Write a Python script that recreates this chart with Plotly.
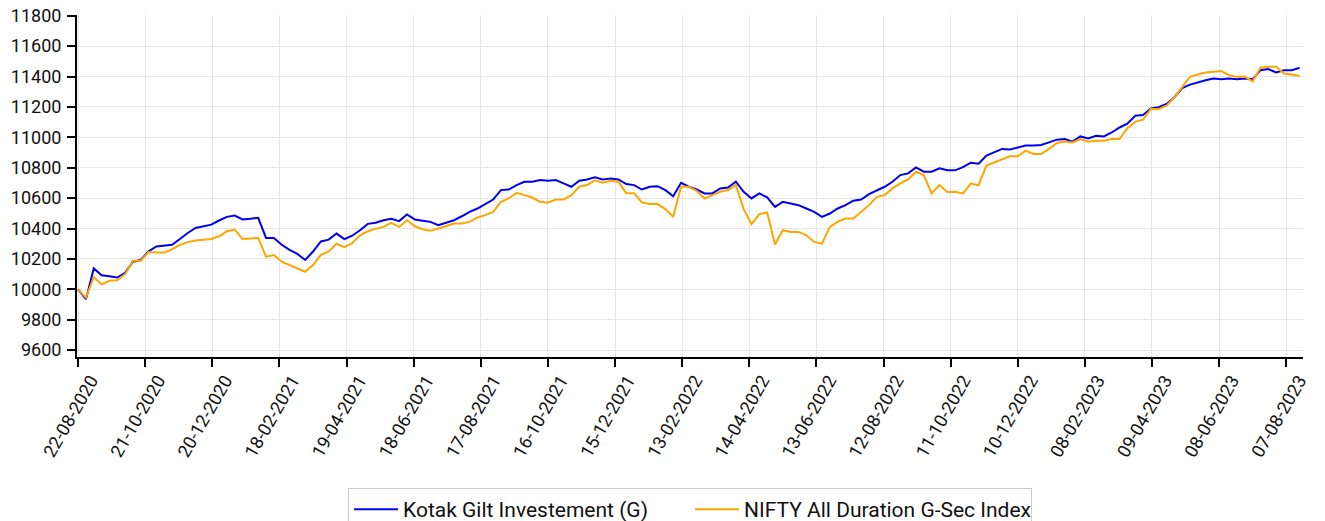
import pandas as pd
import plotly.graph_objects as go

# Weekly observations starting 22-08-2020
start_date = "2020-08-22"
n_weeks = 157
dates = pd.date_range(start_date, periods=n_weeks, freq="7D")

kotak_gilt = [
    10000, 9935, 10138, 10093, 10087, 10078, 10109, 10182, 10193, 10250,
    10282, 10287, 10293, 10331, 10371, 10404, 10415, 10426, 10453, 10477,
    10486, 10460, 10464, 10471, 10338, 10338, 10293, 10260, 10233, 10193,
    10249, 10315, 10327, 10367, 10331, 10353, 10389, 10431, 10438, 10455,
    10464, 10449, 10493, 10460, 10452, 10444, 10422, 10437, 10455, 10481,
    10510, 10532, 10560, 10591, 10653, 10657, 10686, 10708, 10708, 10719,
    10715, 10719, 10697, 10675, 10715, 10723, 10737, 10723, 10730, 10723,
    10693, 10686, 10657, 10675, 10679, 10653, 10613, 10701, 10675, 10657,
    10631, 10631, 10664, 10670, 10708, 10642, 10598, 10631, 10605, 10543,
    10576, 10565, 10554, 10532, 10510, 10477, 10499, 10532, 10554, 10583,
    10591, 10627, 10653, 10675, 10708, 10752, 10763, 10802, 10774, 10774,
    10797, 10783, 10783, 10804, 10833, 10826, 10880, 10902, 10924, 10920,
    10935, 10946, 10946, 10950, 10967, 10985, 10989, 10972, 11006, 10993,
    11011, 11006, 11032, 11065, 11090, 11142, 11147, 11191, 11198, 11220,
    11264, 11324, 11347, 11364, 11376, 11387, 11382, 11387, 11382, 11387,
    11382, 11442, 11449, 11427, 11442, 11442, 11458,
]

nifty_gsec = [
    10000, 9945, 10080, 10033, 10056, 10060, 10100, 10189, 10189, 10245,
    10242, 10242, 10264, 10293, 10311, 10322, 10327, 10331, 10349, 10382,
    10393, 10331, 10335, 10338, 10215, 10226, 10182, 10160, 10138, 10116,
    10160, 10227, 10249, 10300, 10278, 10304, 10355, 10382, 10398, 10411,
    10438, 10411, 10455, 10415, 10396, 10385, 10400, 10415, 10433, 10433,
    10444, 10473, 10488, 10510, 10576, 10598, 10635, 10620, 10604, 10576,
    10570, 10591, 10591, 10620, 10675, 10686, 10717, 10701, 10715, 10708,
    10633, 10633, 10572, 10561, 10561, 10528, 10477, 10675, 10675, 10648,
    10598, 10620, 10642, 10653, 10686, 10528, 10429, 10495, 10506, 10295,
    10389, 10378, 10378, 10356, 10312, 10301, 10411, 10444, 10466, 10466,
    10510, 10554, 10609, 10620, 10664, 10697, 10723, 10774, 10752, 10631,
    10686, 10640, 10642, 10631, 10696, 10685, 10815, 10837, 10854, 10876,
    10876, 10913, 10891, 10891, 10924, 10963, 10972, 10967, 10989, 10972,
    10978, 10978, 10989, 10989, 11060, 11102, 11116, 11187, 11187, 11209,
    11264, 11331, 11398, 11413, 11427, 11431, 11436, 11409, 11398, 11398,
    11369, 11458, 11464, 11464, 11420, 11413, 11404,
]

series_names = ["Kotak Gilt Investement (G)", "NIFTY All Duration G-Sec Index"]
tick_dates = pd.date_range(start_date, periods=19, freq="60D")
y_ticks = list(range(9600, 11801, 200))

fig = go.Figure()
fig.add_trace(go.Scatter(x=dates, y=kotak_gilt, mode="lines", name=series_names[0],
                         line=dict(color="#0000ee", width=2)))
fig.add_trace(go.Scatter(x=dates, y=nifty_gsec, mode="lines", name=series_names[1],
                         line=dict(color="#ffa500", width=2)))

font_family = "Roboto, Arial, sans-serif"
fig.update_layout(
    width=1325, height=521,
    margin=dict(l=77, r=22, t=15, b=164, autoexpand=False),
    paper_bgcolor="white", plot_bgcolor="white",
    font=dict(family=font_family, size=18, color="#111"),
    showlegend=True,
    legend=dict(orientation="h", x=0.5, xanchor="center", y=-0.383, yanchor="top",
                bordercolor="#cccccc", borderwidth=1, font=dict(size=21, color="#111"),
                itemwidth=44, entrywidth=282),
    xaxis=dict(
        range=["2020-08-21", "2023-08-22"],
        tickvals=tick_dates, tickformat="%d-%m-%Y", tickangle=-60,
        showgrid=True, gridcolor="#e6e6e6", gridwidth=1,
        showline=True, linecolor="black", linewidth=2,
        ticks="outside", ticklen=8, tickwidth=2, tickcolor="black",
        tickfont=dict(size=18), zeroline=False, automargin=False,
        ticklabelshift=13, ticklabelstandoff=-4, ticklabeloverflow="allow",
    ),
    yaxis=dict(
        range=[9555, 11805],
        tickvals=y_ticks, tickformat="d",
        showgrid=True, gridcolor="#e6e6e6", gridwidth=1,
        showline=True, linecolor="black", linewidth=2,
        ticks="outside", ticklen=8, tickwidth=2, tickcolor="black",
        tickfont=dict(size=18), zeroline=False, automargin=False,
        ticklabelstandoff=2, ticklabeloverflow="allow",
    ),
)

fig.write_html(
    "out.html",
    config={"displayModeBar": False},
    post_script="document.body.style.margin='0';document.body.style.overflow='hidden';",
)
